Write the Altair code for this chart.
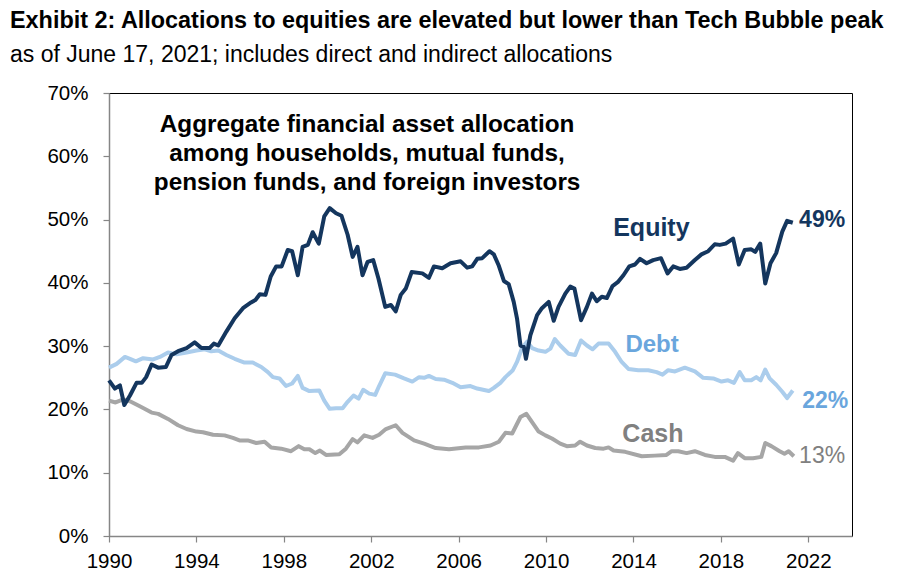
import altair as alt
import pandas as pd

# ---- data (decimal year, % of financial assets) ----
equity_years = [1990.00, 1990.27, 1990.50, 1990.70, 1990.96, 1991.26, 1991.50, 1991.70, 1991.95, 1992.25,
                1992.60, 1992.86, 1993.16, 1993.55, 1993.92, 1994.23, 1994.60, 1994.80, 1995.00, 1995.37,
                1995.75, 1996.13, 1996.50, 1996.70, 1996.90, 1997.16, 1997.40, 1997.65, 1997.90, 1998.18,
                1998.38, 1998.64, 1998.86, 1999.10, 1999.32, 1999.60, 1999.85, 2000.10, 2000.39, 2000.64,
                2000.92, 2001.15, 2001.37, 2001.60, 2001.83, 2002.09, 2002.33, 2002.64, 2002.90, 2003.12,
                2003.35, 2003.58, 2003.85, 2004.34, 2004.64, 2004.87, 2005.25, 2005.63, 2006.09, 2006.39,
                2006.62, 2006.85, 2007.08, 2007.41, 2007.61, 2007.84, 2008.07, 2008.29, 2008.52, 2008.67,
                2008.83, 2008.98, 2009.08, 2009.28, 2009.59, 2009.81, 2010.12, 2010.35, 2010.57, 2010.88,
                2011.11, 2011.30, 2011.60, 2011.87, 2012.10, 2012.32, 2012.55, 2012.78, 2013.04, 2013.28,
                2013.54, 2013.81, 2014.07, 2014.30, 2014.60, 2014.90, 2015.26, 2015.56, 2015.82, 2016.12,
                2016.43, 2016.81, 2017.11, 2017.42, 2017.72, 2017.95, 2018.22, 2018.56, 2018.82, 2019.09,
                2019.39, 2019.57, 2019.80, 2020.03, 2020.27, 2020.53, 2020.81, 2021.03, 2021.29]
equity_values = [24.6, 23.3, 23.8, 20.7, 22.2, 24.2, 24.2, 25.1, 27.1, 26.6,
                 26.7, 28.6, 29.2, 29.7, 30.6, 29.7, 29.7, 30.4, 30.1, 32.3,
                 34.4, 36.0, 36.9, 37.3, 38.2, 38.1, 41.0, 42.6, 42.6, 45.2,
                 45.0, 41.2, 45.7, 46.0, 48.0, 46.2, 50.5, 51.8, 51.0, 50.6,
                 47.6, 44.1, 45.7, 41.2, 43.3, 43.6, 40.7, 36.2, 36.5, 35.5,
                 38.1, 39.1, 41.7, 41.5, 40.8, 42.6, 42.3, 43.1, 43.4, 42.4,
                 42.6, 43.8, 43.9, 45.0, 44.5, 42.7, 40.3, 39.8, 37.0, 34.4,
                 30.1, 29.9, 28.0, 31.7, 34.9, 36.0, 37.0, 34.0, 36.2, 38.3,
                 39.4, 39.1, 34.1, 36.2, 38.3, 37.1, 37.8, 37.6, 39.5, 40.1,
                 41.2, 42.6, 42.9, 43.8, 43.1, 43.6, 43.9, 41.5, 42.6, 42.2,
                 42.4, 43.6, 44.5, 45.0, 46.1, 46.0, 46.2, 47.0, 42.9, 45.2,
                 45.3, 44.9, 46.2, 39.9, 43.1, 44.7, 48.1, 49.8, 49.5]

debt_years = [1990.00, 1990.35, 1990.73, 1990.96, 1991.23, 1991.56, 1992.02, 1992.33, 1992.70, 1993.09,
              1993.55, 1994.00, 1994.38, 1994.68, 1995.00, 1995.37, 1995.75, 1996.20, 1996.58, 1996.97,
              1997.27, 1997.50, 1997.80, 1998.10, 1998.38, 1998.64, 1998.86, 1999.17, 1999.62, 1999.85,
              2000.10, 2000.39, 2000.69, 2000.92, 2001.19, 2001.42, 2001.63, 2001.91, 2002.18, 2002.36,
              2002.64, 2003.09, 2003.50, 2003.88, 2004.19, 2004.42, 2004.64, 2004.95, 2005.33, 2005.71,
              2006.09, 2006.54, 2006.85, 2007.38, 2007.61, 2007.91, 2008.14, 2008.48, 2008.67, 2008.90,
              2009.13, 2009.36, 2009.66, 2009.97, 2010.20, 2010.40, 2010.65, 2011.03, 2011.33, 2011.60,
              2011.87, 2012.13, 2012.40, 2012.86, 2013.16, 2013.46, 2013.77, 2014.22, 2014.68, 2015.06,
              2015.33, 2015.59, 2015.90, 2016.35, 2016.81, 2017.19, 2017.65, 2018.03, 2018.33, 2018.60,
              2018.86, 2019.09, 2019.39, 2019.62, 2019.82, 2020.03, 2020.23, 2020.53, 2020.81, 2021.03,
              2021.29]
debt_values = [26.6, 27.2, 28.3, 28.0, 27.6, 28.1, 27.9, 28.3, 29.0, 28.7,
               29.0, 29.3, 29.5, 29.2, 29.3, 28.6, 28.0, 27.4, 27.4, 26.7,
               25.9, 25.1, 24.9, 23.7, 24.1, 25.3, 23.4, 22.9, 23.0, 21.4,
               20.1, 20.2, 20.2, 21.2, 22.2, 21.7, 23.1, 22.5, 22.3, 23.7,
               25.7, 25.5, 24.9, 24.4, 25.1, 25.0, 25.3, 24.8, 24.7, 24.2,
               23.5, 23.7, 23.3, 22.9, 23.4, 24.2, 25.1, 26.2, 27.5, 29.7,
               30.7, 29.7, 29.3, 29.1, 29.6, 31.1, 30.1, 28.8, 28.6, 30.9,
               30.1, 29.5, 30.4, 30.4, 29.1, 27.5, 26.4, 26.2, 26.2, 25.9,
               25.5, 26.2, 26.0, 26.6, 26.0, 25.0, 24.9, 24.4, 24.6, 24.2,
               25.9, 24.6, 24.6, 25.1, 24.6, 26.3, 24.9, 23.9, 22.8, 21.8,
               23.0]

cash_years = [1990.00, 1990.30, 1990.65, 1990.96, 1991.41, 1991.95, 1992.25, 1992.70, 1993.16, 1993.55,
              1994.00, 1994.30, 1994.76, 1995.29, 1995.67, 1995.97, 1996.35, 1996.74, 1997.12, 1997.42,
              1997.88, 1998.33, 1998.68, 1998.94, 1999.17, 1999.44, 1999.65, 1999.93, 2000.54, 2000.84,
              2001.15, 2001.37, 2001.68, 2002.06, 2002.36, 2002.67, 2003.12, 2003.43, 2003.96, 2004.42,
              2004.95, 2005.56, 2006.32, 2006.93, 2007.46, 2007.84, 2008.14, 2008.45, 2008.83, 2009.10,
              2009.36, 2009.66, 2009.97, 2010.27, 2010.65, 2010.95, 2011.33, 2011.56, 2011.87, 2012.25,
              2012.63, 2012.86, 2013.09, 2013.62, 2014.38, 2014.98, 2015.51, 2015.75, 2016.05, 2016.43,
              2016.81, 2017.27, 2017.72, 2018.18, 2018.56, 2018.78, 2019.09, 2019.47, 2019.85, 2020.03,
              2020.31, 2020.69, 2020.91, 2021.10, 2021.34]
cash_values = [21.4, 21.1, 21.6, 21.3, 20.5, 19.5, 19.3, 18.5, 17.5, 16.9,
               16.5, 16.4, 16.0, 15.9, 15.5, 15.1, 15.1, 14.7, 14.9, 14.0,
               13.8, 13.4, 14.2, 13.7, 13.7, 13.1, 13.5, 12.8, 12.9, 13.8,
               15.3, 14.8, 15.9, 15.5, 16.0, 16.9, 17.5, 16.3, 15.1, 14.6,
               13.9, 13.7, 14.0, 14.0, 14.3, 14.9, 16.3, 16.2, 18.8, 19.3,
               18.0, 16.5, 15.9, 15.4, 14.6, 14.2, 14.3, 14.9, 14.3, 13.9,
               13.8, 14.0, 13.5, 13.3, 12.6, 12.7, 12.8, 13.4, 13.4, 13.1,
               13.4, 12.8, 12.5, 12.5, 11.9, 13.1, 12.3, 12.3, 12.5, 14.7,
               14.2, 13.4, 13.0, 13.4, 12.6]

series_names = ["Cash", "Debt", "Equity"]
series_colors = ["#a6a6a6", "#abcdec", "#14365e"]
x_ticks = [1990, 1994, 1998, 2002, 2006, 2010, 2014, 2018, 2022]
y_ticks = [0, 10, 20, 30, 40, 50, 60, 70]

title_text = "Exhibit 2: Allocations to equities are elevated but lower than Tech Bubble peak"
subtitle_text = "as of June 17, 2021; includes direct and indirect allocations"
note_lines = ["Aggregate financial asset allocation",
              "among households, mutual funds,",
              "pension funds, and foreign investors"]

FONT = "Liberation Sans"

frames = []
for name, yrs, vals in [("Cash", cash_years, cash_values),
                        ("Debt", debt_years, debt_values),
                        ("Equity", equity_years, equity_values)]:
    frames.append(pd.DataFrame({"year": yrs, "value": vals, "series": name}))
df = pd.concat(frames, ignore_index=True)

x_scale = alt.Scale(domain=[1990, 2024], nice=False, zero=False)
y_scale = alt.Scale(domain=[0, 70], nice=False)

x_axis = alt.Axis(values=x_ticks, format="d", title=None, grid=False, labelFlush=False,
                  tickSize=6, labelPadding=9, labelFont=FONT, labelFontSize=20.5,
                  labelColor="#000000", domainColor="#868686", tickColor="#868686",
                  domainWidth=1.5, tickWidth=1.2)
y_axis = alt.Axis(values=y_ticks, labelExpr="datum.value + '%'", title=None, labelFlush=False,
                  grid=False, tickSize=6, labelPadding=15, labelFont=FONT, labelFontSize=20.5,
                  labelColor="#000000", domainColor="#868686", tickColor="#868686",
                  domainWidth=1.5, tickWidth=1.2)

lines = []
for name, col in zip(series_names, series_colors):
    lines.append(
        alt.Chart(df[df.series == name]).mark_line(strokeWidth=4, color=col, strokeJoin="round")
        .encode(x=alt.X("year:Q", scale=x_scale, axis=x_axis),
                y=alt.Y("value:Q", scale=y_scale, axis=y_axis))
    )

def label(rows, **style):
    d = pd.DataFrame(rows, columns=["year", "value", "text"])
    return alt.Chart(d).mark_text(font=FONT, **style).encode(
        x=alt.X("year:Q", scale=x_scale), y=alt.Y("value:Q", scale=y_scale), text="text:N")

note_rows = [[2001.81, 63.9, note_lines[0]],
             [2001.81, 59.3, note_lines[1]],
             [2001.81, 54.7, note_lines[2]]]

labels = [
    label(note_rows, fontSize=24.3, fontWeight="bold", align="center", baseline="alphabetic", color="#000000"),
    label([[2014.82, 47.4, "Equity"]], fontSize=25, fontWeight="bold", align="center", baseline="alphabetic", color="#14365e"),
    label([[2021.58, 48.8, "49%"]], fontSize=23, fontWeight="bold", align="left", baseline="alphabetic", color="#14365e"),
    label([[2013.63, 29.0, "Debt"]], fontSize=24, fontWeight="bold", align="left", baseline="alphabetic", color="#6aa6dd"),
    label([[2021.72, 20.2, "22%"]], fontSize=23, fontWeight="bold", align="left", baseline="alphabetic", color="#6aa6dd"),
    label([[2013.49, 14.9, "Cash"]], fontSize=25, fontWeight="bold", align="left", baseline="alphabetic", color="#808080"),
    label([[2021.58, 11.6, "13%"]], fontSize=23, fontWeight="normal", align="left", baseline="alphabetic", color="#808080"),
]

chart = alt.layer(*lines, *labels).properties(
    width=743, height=443,
    background="#ffffff",
    autosize=alt.AutoSizeParams(type="none"),
    padding={"left": 101, "top": 85, "right": 40, "bottom": 40},
    title=alt.TitleParams(
        text=title_text, subtitle=subtitle_text,
        anchor="start", frame="group", dx=-99, offset=15,
        font=FONT, fontSize=23.4, fontWeight="bold", color="#000000",
        subtitleFont=FONT, subtitleFontSize=23, subtitleColor="#000000",
        subtitlePadding=11,
    ),
).configure_view(
    stroke="#000000", strokeWidth=1
)

chart.save("out.html", embed_options={"renderer": "svg", "actions": False})
